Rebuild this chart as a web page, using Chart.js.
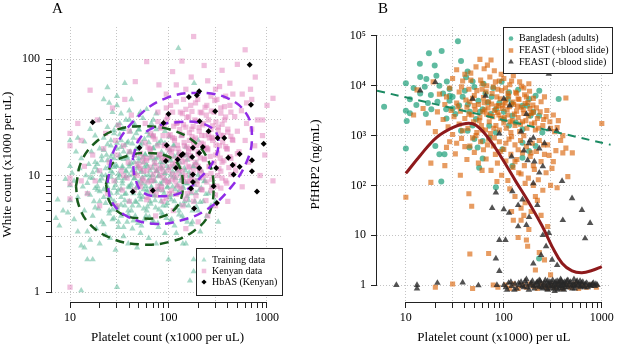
<!DOCTYPE html>
<html>
<head>
<meta charset="utf-8">
<script src="https://cdn.jsdelivr.net/npm/chart.js@4.4.1/dist/chart.umd.min.js"></script>
<style>
  html, body { margin: 0; padding: 0; background: #fff; }
  #wrap { position: relative; width: 617px; height: 353px; }
  canvas { position: absolute; top: 0; }
</style>
</head>
<body>
<div id="wrap">
  <canvas id="chartA" width="308" height="353" style="left:0"></canvas>
  <canvas id="chartB" width="309" height="353" style="left:308px"></canvas>
</div>
<script>
// ---------- panel A data (platelets x1000/uL, white count x1000/uL) ----------
const trainingPts = [
  [7.2,4.3],[7.8,3.7],[7.5,6.2],[8.5,5],[9,9.3],[9.5,4.8],[10,6.1],[10,8.2],[10.5,10.5],[10,12],[10,20],[11,9],[11,4.2],
  [11.5,16],[12,21],[12,6.5],[12,3.3],[12.5,11.5],[13,1.03],[13,2.5],[13,14],[13.5,8],[14,2.4],[14,5],[14,19.5],[14.5,10],
  [15,3.3],[15,1.9],[15,7],[15.5,12.5],[16,25],[16,2.8],[16.5,16],[17,1.9],[17,4.5],[17,9.5],[17.5,6],[18,22],[18,13],
  [18.5,3.5],[19,7.5],[19,11],[19.5,5.2],[20,30],[20,2.6],[20,17],[20,9],
  [21,4],[21,13.5],[22,6.5],[22,21],[22,45],[23,10],[23,3.1],[23.5,15],[24,8],[24,26],[24,57],[25,5],[25,12],[25.5,2.9],
  [26,18],[26,7],[27,35],[27,10.5],[27,4.2],[28,14],[28,23],[28,6],[29,2.3],[29,9],[30,1.1],[30,12],[30,17],[30,5.2],
  [30,40],[31,7.5],[31,3.6],[32,28],[32,10],[32,14],[33,20],[33,6.5],[33,4.5],[34,8.5],[34,12],[35,3],[35,16],[35,25],
  [36,9.5],[36,5.5],[37,11],[37,7],[38,14],[38,19],[38,4],[39,8],[39,2.6],[40,10],[40,6],[40,12.5],[40,30],
  [36,62],[42,45],[30,48],[25,42],[52,35],[70,30],[45,28],
  [41,16],[42,8.5],[42,5],[43,3.5],[43,11],[44,21],[44,7],[45,13],[45,9.5],[46,4.5],[46,6],[47,17],[47,10.5],[48,8],
  [48,2.4],[49,12],[50,5.5],[50,14],[50,25],[51,7],[52,9],[52,3.2],[53,11],[54,19],[55,6.5],[55,8.5],[56,13],[57,4.2],
  [58,10],[58,15],[60,7.5],[60,5],[61,12],[62,9],[63,2.9],[63,22],[65,6],[65,11],[66,14],[67,8],[68,4],[69,10],[70,17],
  [70,6.8],[72,12.5],[73,9],[74,5.3],[75,2.6],[75,14],[76,11],[78,7.5],[79,3.6],[80,19],[80,10],[82,8.5],[83,13],[84,6],
  [85,4.8],[86,11.5],[88,9],[90,15],[90,7],[92,3.2],[93,10.5],[95,5.5],[96,12],[98,8],
  [100,1.9],[102,6.5],[103,14],[105,10],[108,4.2],[110,8],[112,12],[114,18],[115,6],[118,9.5],[120,3.2],[122,11],[125,7],
  [128,5],[130,13],[133,9],[135,22],[138,4.5],[140,8],[145,6],[148,11],[150,2.6],[152,15],[155,8.5],[160,5.5],[165,10],
  [170,7],[175,4],[180,1.5],[180,12],[185,6],[190,9],[200,5],[200,20],[205,7.5],[210,3.3],[215,11],[225,6],[235,9],
  [245,4.5],[255,7],[270,5.5],[280,8],[300,6],[320,4],[126,124],[182,62],[165,1.25],[180,1.9],[140,2.6],
  [22,3.8],[28,4.3],[35,3.6],[44,4.1],[53,3.7],[64,4.4],[78,3.9],[95,4.3],[115,3.7],[140,4.2],[170,3.8],
  [18,5.3],[23,5.8],[27,5.1],[33,5.6],[39,5.0],[47,5.9],[56,5.2],[66,5.7],[80,5.1],[97,5.8],[118,5.3],[145,5.6],[175,5.0],[210,5.9],
  [16,6.8],[20,7.3],[25,6.6],[30,7.1],[36,6.9],[43,7.4],[51,6.6],[61,7.2],[73,6.7],[88,7.4],[106,6.8],[128,7.3],[155,6.6],[190,7.1],[240,6.9],
  [15,8.6],[19,8.1],[24,8.8],[29,8.3],[34,9.0],[41,8.2],[49,8.7],[59,8.1],[71,8.9],[85,8.4],[102,8.8],[123,8.2],[150,8.6],[185,8.3],[230,8.9],
  [17,10.6],[21,10.1],[26,10.9],[31,10.3],[37,10.8],[44,10.2],[53,10.7],[63,10.1],[76,10.9],[91,10.4],[110,10.8],[133,10.2],[162,10.6],[200,10.1],
  [19,12.5],[24,13.5],[29,12.2],[35,13.8],[42,12.7],[50,13.2],[60,12.4],[72,13.7],[87,12.9],[105,13.4],[127,12.3],[155,13.6],[190,12.8],
  [22,16.5],[27,15.3],[33,17.5],[40,15.8],[48,16.8],[58,15.2],[70,17.2],[85,15.9],[103,16.4],[125,15.4],[150,17.6],
  [26,20],[32,22.5],[39,19.5],[47,23],[57,20.5],[69,22],[84,19.8],[102,21.5],
  [30,27],[37,30],[45,26.5],[55,31],[67,28],[82,26],
  [25,4.7],[31,4.0],[39,4.6],[49,3.9],[59,4.5],[71,4.0],[87,4.6],[105,4.1],[128,4.6],[155,4.0],
  [20,6.0],[26,6.3],[30,5.4],[36,6.1],[43,5.5],[52,6.2],[61,5.4],[73,6.1],[88,5.5],[107,6.2],[131,5.6],[160,6.1],[192,5.4],
  [18,7.8],[22,7.6],[28,7.8],[33,7.7],[40,7.9],[47,7.8],[56,7.6],[67,7.9],[80,7.7],[97,7.9],[117,7.6],[141,7.8],[172,7.7],[215,7.8],
  [16,9.6],[21,9.4],[26,9.7],[31,9.5],[37,9.8],[45,9.4],[54,9.6],[65,9.5],[78,9.8],[93,9.4],[112,9.7],[136,9.5],[167,9.8],[205,9.4],
  [18,11.7],[23,11.5],[28,11.8],[34,11.6],[40,11.9],[48,11.5],[57,11.8],[69,11.6],[83,11.9],[100,11.5],[120,11.8],[145,11.6],[178,11.9],
  [21,14.6],[26,14.4],[32,14.9],[38,14.5],[46,14.8],[55,14.3],[66,14.9],[79,14.4],[95,14.7],[115,14.5],[140,14.8],[170,14.4],
  [24,18.5],[30,19],[36,18.2],[43,18.8],[52,18.3],[63,19.2],[76,18.4],[92,18.9],[112,18.1],
  [28,24.5],[34,25],[41,23.8],[50,24.6],[61,23.5],[75,24.8],[92,24],
  [33,34],[40,36],[50,33],[60,37],[75,34]
];
const kenyanPts = [
  [10,1.1],[10,6.3],[10,8.5],[10,9.5],[10,18],[10,23],[12,28],[13,9],[13,20],[14,12],[15,7],[16,54],[17,15],[18,9],
  [19,30],[20,5.5],[20,11],[22,17],[23,23],[24,7],[25,13],[27,38],[28,9],[29,20],[30,5.5],[30,15],[31,27],[33,11],
  [34,7.5],[35,18],[36,45],[38,9.5],[39,13],[40,24],[40,6],[42,33],
  [60,95],[137,96],[180,156],[600,120],[1150,46],[1150,9],[46,64],[80,60],[95,50],[110,78],[170,70],[250,65],[300,55],
  [420,62],[500,90],[560,50],[700,45],[900,30],[350,80],[230,88],[150,55],[120,60],
  [45,15],[48,10],[50,20],[52,8],[55,13],[58,28],[60,11],[62,6.5],[65,17],[67,9],[70,22],[72,13],[74,4.5],[75,7.5],
  [78,35],[80,15],[82,10],[85,26],[87,12],[88,6],[90,18],[92,9],[95,30],[97,14],[100,11],[100,22],[102,7],[105,40],
  [107,16],[110,12.5],[112,5],[115,20],[117,9],[120,28],[122,14],[125,17],[127,11],[130,8],[132,35],[135,22],[138,13],
  [140,5.5],[142,45],[145,18],[148,10],[150,26],[152,15],[155,7],[158,12],[160,32],[163,20],[165,9],[168,40],[170,14],
  [172,25],[175,17],[178,11],[180,6],[185,30],[188,21],[190,13],[195,9],[198,45],[200,16],[205,24],[208,11],[210,35],
  [215,19],[220,7.5],[225,28],[230,14],[235,22],[240,10],[245,40],[250,17],[255,30],[260,12],[270,25],[275,8],[280,20],
  [290,35],[300,15],[310,45],[315,10],[320,26],[330,18],[340,38],[350,13],[360,22],[370,30],[380,9],[390,17],[400,25],
  [420,40],[430,14],[450,20],[470,32],[480,11],[500,24],[520,16],[550,36],[560,8],[600,20],[620,28],[650,13],[700,25],
  [750,18],[800,30],[850,10],[900,22],[950,15],[1000,40],[680,55],[760,70],[620,42],[450,50],[380,48],[330,58],[270,48],
  [400,6],[300,5.5],[250,4.5],[200,4],[150,3.5],
  [55,9],[60,14],[68,7.5],[75,11],[85,8],[90,13.5],[100,9],[110,17],[120,10],[130,15],[140,9],[160,16],[180,19],[200,12],
  [230,17],[260,21],[40,16],[35,10],[45,7.5],[50,12],
  [60,6.2],[75,6.8],[95,6.4],[120,6.9],[150,6.3],[190,6.7],[240,6.1],[300,6.8],
  [50,8.3],[62,8.8],[78,8.1],[98,8.7],[122,8.2],[155,8.9],[195,8.4],[245,8.8],[310,8.1],[390,8.6],
  [45,10.4],[56,10.9],[70,10.2],[88,10.8],[110,10.3],[138,10.9],[172,10.1],[215,10.7],[270,10.4],[340,10.9],[430,10.2],
  [48,12.6],[60,13.5],[75,12.2],[94,13.8],[118,12.8],[148,13.3],[185,12.4],[232,13.7],[290,12.9],[365,13.4],[460,12.3],
  [52,15.5],[65,16.8],[82,15.2],[102,16.5],[128,15.8],[160,17.0],[200,15.3],[250,16.6],[315,15.6],[395,16.9],[500,15.4],
  [58,19],[73,20.5],[92,18.3],[115,20.8],[144,19.2],[180,20.2],[225,18.6],[282,20.9],[355,19.4],[445,20.4],
  [66,23],[83,25.5],[104,22.4],[130,24.8],[163,23.3],[204,25.8],[255,22.6],[320,24.5],[400,23.6],
  [78,29],[98,32],[123,28.4],[154,31.5],[193,29.3],[242,33],[303,28.8],[380,31.8],
  [95,38],[120,43],[150,37],[188,42],[235,38.5],[295,44],[370,39],
  [68,7.3],[85,7.6],[107,7.4],[135,7.7],[170,7.3],[215,7.6],[270,7.4],[340,7.8],
  [55,9.4],[70,9.2],[88,9.6],[110,9.3],[138,9.7],[173,9.2],[218,9.6],[275,9.3],[350,9.5],
  [52,11.5],[65,11.8],[82,11.4],[103,11.9],[130,11.5],[163,11.8],[205,11.4],[258,11.9],[325,11.5],[410,11.7],
  [55,14.2],[68,14.6],[85,14.1],[107,14.7],[134,14.3],[168,14.8],[210,14.2],[265,14.6],[335,14.1],[420,14.5],
  [62,17.5],[78,18],[98,17.3],[123,18.2],[154,17.6],[193,18.1],[242,17.4],[303,18.3],[380,17.7],
  [70,21.5],[88,22],[110,21.2],[138,22.3],[173,21.6],[217,22.1],[272,21.3],[340,22.2],[430,21.7],
  [90,27],[113,26.5],[142,27.3],[178,26.4],[223,27.2],[280,26.7],[350,27.5],
  [110,35],[138,34],[173,35.5],[217,34.5],[272,35.8],[340,34.3],[430,35]
];
const hbasPts = [
  [17,28.7],[43.4,7.24],[50.7,17.3],[69.3,7.43],[89,28.3],[96,18.2],[94,13.3],[100,33.8],[119,11.6],[124,13.7],
  [135,14.9],[140,15.3],[161,47.2],[174,14.4],[177,17.3],[177,10.2],[177,8.8],[182,5.2],[169,7.75],[194,48.9],
  [205,52.8],[205,15.6],[205,11.6],[207,29.2],[223,17.6],[255,24],[287,8.1],[298,35.6],[305,11.6],[310,5.8],
  [315,21],[368,21],[404,14.2],[448,12.3],[458,10.2],[527,11.9],[527,15.3],[667,89.4],[687,40.6],[703,13.5],
  [703,10.9],[791,7.3],[925,18.7]
];
const greenOuter = [
  [11.5,8.1],[13.1,13.3],[18.7,19.7],[29.9,24.8],[55.7,26.5],[104,24.8],[180,19.7],[255,13.3],[287,7.8],[255,4.6],
  [180,3.33],[104,2.7],[51.5,2.56],[25.5,2.92],[15.4,3.93],[12.2,5.64],[11.5,8.1]
];
const greenInner = [
  [23.2,8.4],[26.5,12.4],[37.7,14.7],[60.3,15.6],[96,14.7],[126,12.4],[140,8.4],[126,5.64],[89,4.48],[55.7,4.27],
  [34.8,4.6],[25.5,5.84],[23.2,8.4]
];
const purpleOuter = [
  [24,8.65],[28.7,17.3],[51.5,33.3],[96,46.4],[194,51.2],[392,46.4],[626,33.3],[703,21],[626,13.3],[424,7.8],
  [245,5.1],[131.5,4.1],[70.3,3.85],[37.7,4.48],[26.5,6.0],[24,8.65]
];
const purpleInner = [
  [43.4,14.2],[51.5,21],[76,26.5],[131.5,28.8],[210,28.3],[298,24],[322,18.5],[287,13.3],[210,9.55],[142,7.3],
  [89,6.65],[55.7,7.1],[45.8,9.55],[43.4,14.2]
];

// ---------- panel B data (platelets x1000/uL, PfHRP2 ng/mL) ----------
const bangladeshPts = [
  [6,3800],[10,11200],[10,3160],[10.2,1970],[10,550],[11,2800],[12.8,4100],[13.9,27600],[15.6,9600],[17.2,45000],
  [16.8,4500],[18.2,3400],[16,2700],[19.7,25600],[23.2,50000],[22,10000],[26.2,12200],[27.9,8600],[27.9,5000],
  [25.8,3400],[32,2700],[34,78000],[36.6,31300],[42.7,19300],[41.2,14800],[48,12200],[36.6,1250],[42.7,1250],
  [48,1600],[52,2150],[60.8,3400],[68.5,4650],[73.8,2700],[60.8,780],[50,850],[54,580],[44.6,580],[22,420],[24.8,420],
  [20,620],[56,225],[60.8,345],[71,910],[83,1150],[96.8,530],[113,1600],[132,1830],[155,1340],[181,5430],[173,3980],
  [211,6300],[229,2500],[247,1150],[155,720],[181,490],[211,620],[363,5430],[113,7400],[155,3980],[187,2500],
  [122,2500],[83,3400],[71,1570],[122,245],[83,92],[155,360],[229,3.4],[23,120],[16.2,13700],[20.5,16000],[11,5400],
  [24,7000],[28,6300],[14,7000],[30,6000],[35,4000],[45,3000],[55,5000],[65,7000],[40,8000],[50,9500],[75,6000],
  [90,4500],[100,3000],[110,5500],
  [12,9000],[14,15000],[18,6500],[21,4800],[26,2200],[30,3500],[38,6000],[43,4200],[57,3000],[62,11000],[78,9000],
  [95,12000],[120,4400],[140,8300],[200,3000],[230,8000],[100,2100]
];
const feastPosPts = [
  [13,8300],[19,12000],[22,6800],[28,9000],[33,21000],[35,7500],[38,12500],[40,17000],[44,8500],[46,13000],[50,6400],
  [52,24000],[57,34000],[60,11000],[63,22000],[66,7600],[68,26000],[72,15000],[74,33000],[78,9500],[80,20000],[85,6000],
  [90,12500],[95,8000],[100,14000],[105,5200],[115,10500],[125,16000],[135,7000],[145,12000],[160,9000],[170,6000],
  [180,11000],[200,5600],[260,6000],[430,5700],[140,5500],[110,7000],[60,8500],[48,5600],
  [12,2600],[15,3500],[17,1800],[20,1200],[21,3000],[24,2100],[25,4200],[27,1500],[29,3200],[30,1050],[31,2400],
  [33,4500],[35,1700],[36,3100],[38,1250],[40,2200],[42,3700],[43,1400],[45,4800],[47,2600],[49,1900],[51,3300],
  [53,1150],[55,4200],[57,2300],[59,1600],[61,3000],[63,4600],[65,1300],[67,2700],[69,3600],[71,1900],[73,1100],
  [75,4300],[77,2400],[80,3200],[83,1600],[86,2900],[88,4000],[90,1300],[93,2200],[96,3500],[100,1800],[103,4500],
  [106,1400],[110,2600],[114,3800],[118,1150],[122,2000],[126,4200],[130,1600],[135,3100],[140,2300],[145,1200],
  [150,3700],[155,1900],[160,2800],[165,4400],[172,1400],[178,2500],[185,3500],[192,1700],[200,2900],[210,1300],
  [220,2200],[235,3000],[250,1600],[270,2400],[300,1400],[330,1200],[350,1450],[400,1000],[1000,1750],
  [26,6000],[30,14000],[34,3800],[37,9500],[41,5200],[44,2700],[46,18000],[50,4000],[53,8000],[56,2000],[58,13000],
  [62,5800],[64,3300],[67,10000],[70,4800],[72,2500],[76,7000],[79,1400],[82,12000],[84,3900],[87,8500],[89,2600],
  [92,5500],[94,17000],[98,4100],[101,2300],[104,9000],[108,3300],[112,6200],[116,1900],[120,12500],[124,4700],
  [128,2700],[132,7400],[138,3900],[143,5300],[148,1700],[152,9800],[158,3300],[163,6600],[168,2000],[176,4600],
  [183,7800],[190,2800],[198,4100],[206,1800],[215,3600],[225,1400],[240,4800],[255,2100],[275,3200],[295,1900],
  [320,2600],[360,2000],[33,700],[40,600],[52,1000],[60,1300],[68,650],[80,900],[92,480],[105,700],[120,950],[140,520],
  [160,1000],[190,450],[230,800],[280,650],[320,300],[260,420],[200,250],[150,170],[60,200],[85,120],[165,110],[130,300],
  [18,280],[18,115],[25,250],[26,580],[28,750],[32,430],[36,160],[37,880],[42,330],[45,620],[48,900],[50,460],[55,280],
  [58,750],[62,520],[66,340],[70,850],[74,200],[78,620],[82,420],[86,280],[90,750],[95,160],[100,530],[105,310],
  [110,125],[113,850],[118,420],[124,230],[130,650],[136,330],[142,180],[148,800],[155,450],[162,250],[170,600],
  [178,140],[186,380],[195,700],[205,210],[215,480],[225,130],[240,300],[255,650],[270,180],[290,400],[310,220],
  [340,500],[380,800],[400,450],[430,560],[500,450],[450,150],
  [10,58],[44,68],[47,38],[45,4.2],[70,4.3],[130,60],[125,20],[150,20],[150,35],[160,25],[170,8],[140,9],[165,45],
  [180,13],[190,30],[200,100],[210,60],[220,50],[230,4.5],[250,80],[260,3.2],[280,15],[300,1.6],[300,100],[350,90],
  [210,2],[175,6],[115,85],[240,25],[120,30],
  [20,0.9],[30,1.05],[48,0.85],[78,1.0],[87,0.9],[105,1.0],[115,0.85],[125,1.05],[140,0.85],[155,1.0],[170,0.9],
  [185,1.05],[200,0.95],[220,0.85],[240,1.05],[260,0.95],[280,0.85],[300,1.0],[330,0.9],[360,1.05],[400,0.85],
  [440,1.0],[480,0.9],[530,1.05],[580,0.85],[640,1.0],[700,0.9],[780,1.0],[880,0.9]
];
const feastNegPts = [
  [8,1.0],[13,1.0],[13,0.85],[21,1.1],[38,1.12],[55,0.98],[85,1.0],[100,1.0],[108,0.8],[112,1.1],[120,0.95],[130,1.05],
  [135,0.85],[145,1.0],[150,1.15],[160,0.9],[170,1.05],[180,0.8],[190,1.1],[200,0.95],[210,1.0],[220,1.15],[230,0.9],
  [240,1.05],[250,0.85],[260,1.1],[270,0.95],[280,1.2],[290,1.0],[300,0.85],[310,1.1],[320,0.95],[330,1.05],[340,0.9],
  [350,1.2],[360,1.0],[370,0.85],[380,1.1],[390,0.95],[400,1.05],[410,0.8],[420,1.15],[430,1.0],[450,0.9],[470,1.1],
  [490,0.95],[510,1.05],[530,0.85],[550,1.15],[570,1.0],[600,0.9],[620,1.1],[650,0.95],[680,1.05],[720,0.9],[760,1.0],
  [800,1.05],[850,0.95],[900,1.0],[330,0.75],[280,0.8],[230,1.25],[450,1.25],[520,1.3],[170,1.3],[380,1.3],[600,1.2],
  [105,0.9],[118,1.15],[128,0.8],[142,1.1],[155,0.95],[165,1.2],[175,0.9],[188,1.0],[196,1.2],[205,0.85],[215,1.1],
  [225,0.95],[235,1.2],[245,0.9],[255,1.0],[265,1.25],[275,0.85],[285,1.05],[295,1.15],[305,0.95],[315,1.25],[325,0.85],
  [335,1.15],[345,1.0],[355,0.8],[365,1.15],[375,0.95],[385,1.2],[395,0.85],[405,1.1],[415,1.0],[425,0.9],[440,1.2],
  [460,1.0],[480,1.15],[500,0.85],[520,1.0],[540,0.95],[560,1.2],[580,1.05],[610,0.95],[640,1.15],[670,0.9],[700,1.1],
  [740,1.0],[780,0.95],[820,1.1],[870,1.05],
  [14,8000],[20,11800],[65,6300],[48,5500],[100,5500],[115,4000],[288,17300],[170,2700],[180,700],[150,1200],[290,1340],
  [346,1250],[200,900],[160,500],[185,800],[260,700],[230,550],[205,300],[250,240],[230,180],[175,320],[120,380],
  [90,1100],[83,72],[76,35],[83,3.4],[90,8],[104,8],[90,1.9],[100,33],[113,28],[122,76],[155,52],[140,40],[181,23],
  [170,16],[200,110],[220,40],[250,10],[288,11],[311,3.2],[270,6],[393,122],[400,20],[497,55],[627,32],[675,8.6],
  [760,17.5],[240,4],[350,2.5],[200,2.7],[140,15]
];
const fitCurve = [
  [10,174],[13.9,390],[20.5,915],[30,1450],[41,1750],[52,1620],[71,845],[97,334],[132,122],[181,44.6],[247,15.1],
  [311,5.9],[393,2.74],[497,1.92],[627,1.77],[792,1.95],[1000,2.34]
];
const trendLine = [[5.08,7980],[1234,653]];

// ---------- axes ----------
const plateletTicks = [10,20,30,40,50,60,70,80,90,100,200,300,400,500,600,700,800,900,1000];
const plateletLabels = { 10: '10', 100: '100', 1000: '1000' };
const plateletGrid = [10, 30, 100, 300, 1000];
const whiteTicks = [1,2,3,4,5,6,7,8,9,10,20,30,40,50,60,70,80,90,100];
const whiteLabels = { 1: '1', 10: '10', 100: '100' };
const whiteGrid = [1, 3, 10, 30, 100];
const hrpTicks = [1, 10, 100, 1000, 10000, 100000];
const hrpLabels = { 1: '1', 10: '10', 100: '10\u00B2', 1000: '10\u00B3', 10000: '10\u2074', 100000: '10\u2075' };

const SERIF = "'Liberation Serif', 'DejaVu Serif', serif";
const pts = a => a.map(p => ({ x: p[0], y: p[1] }));

function logAxis(o) {
  return {
    type: 'logarithmic',
    position: o.position,
    min: o.min, max: o.max,
    afterBuildTicks: s => { s.ticks = o.ticks.map(v => ({ value: v })); },
    afterFit: s => { if (o.width) s.width = o.width; if (o.height) s.height = o.height; },
    ticks: {
      autoSkip: false, maxRotation: 0, minRotation: 0, padding: o.pad, color: '#000',
      font: { family: SERIF, size: 12 },
      callback: v => o.labels[v] || ''
    },
    grid: {
      drawOnChartArea: true, drawTicks: true, tickLength: 6, tickColor: '#222', tickWidth: 1, lineWidth: 1,
      color: c => (c.tick && o.grid.includes(c.tick.value)) ? '#c4c4c4' : 'rgba(0,0,0,0)'
    },
    border: { display: false, dash: [1, 2] },
    title: { display: true, text: o.title, color: '#000', font: { family: SERIF, size: 13 }, padding: o.titlePad }
  };
}

// R-style detached axis lines, legend box and panel letter
const decor = {
  id: 'decor',
  afterDraw(chart, args, o) {
    const { ctx, chartArea } = chart;
    const xs = chart.scales.x, ys = chart.scales.y;
    ctx.save();
    ctx.strokeStyle = '#222';
    ctx.lineWidth = 1;
    ctx.beginPath();
    const lx = Math.round(chartArea.left) - 0.5;
    ctx.moveTo(lx, ys.getPixelForValue(o.yFrom));
    ctx.lineTo(lx, ys.getPixelForValue(o.yTo));
    const by = Math.round(chartArea.bottom) + 0.5;
    ctx.moveTo(xs.getPixelForValue(o.xFrom), by);
    ctx.lineTo(xs.getPixelForValue(o.xTo), by);
    ctx.stroke();

    // legend
    const L = o.legend;
    ctx.fillStyle = '#fff';
    ctx.fillRect(L.x1, L.y1, L.x2 - L.x1, L.y2 - L.y1);
    ctx.strokeStyle = '#222';
    ctx.strokeRect(L.x1 + 0.5, L.y1 + 0.5, L.x2 - L.x1, L.y2 - L.y1);
    ctx.font = L.size + 'px ' + SERIF;
    ctx.textBaseline = 'middle';
    ctx.textAlign = 'left';
    L.items.forEach((it, i) => {
      const y = L.rows[i];
      ctx.fillStyle = it.color;
      Chart.helpers.drawPoint(ctx, { pointStyle: it.style, radius: it.r, rotation: 0, borderWidth: 0 }, L.symX, y);
      ctx.fillStyle = '#000';
      ctx.fillText(it.label, L.textX, y);
    });

    // panel letter
    ctx.font = '15px ' + SERIF;
    ctx.fillStyle = '#000';
    ctx.textBaseline = 'alphabetic';
    ctx.fillText(o.letter, o.letterX, 13);
    ctx.restore();
  }
};

const lineDs = (data, color, width, dash) => ({
  type: 'scatter', data: pts(data), showLine: true, tension: 0.4, borderColor: color, borderWidth: width,
  borderDash: dash, pointRadius: 0, fill: false
});

// ---------- panel A ----------
new Chart(document.getElementById('chartA'), {
  type: 'scatter',
  data: {
    datasets: [
      { data: pts(hbasPts), pointStyle: 'rectRot', pointRadius: 3, backgroundColor: '#000', borderWidth: 0 },
      lineDs(purpleInner, '#8f2be6', 2.5, [9, 6]),
      lineDs(purpleOuter, '#8f2be6', 2.5, [9, 6]),
      lineDs(greenInner, '#195c1d', 2.5, [9, 6]),
      lineDs(greenOuter, '#195c1d', 2.5, [9, 6]),
      { data: pts(kenyanPts), pointStyle: 'rect', pointRadius: 3.7, backgroundColor: 'rgba(226,128,188,0.5)', borderWidth: 0 },
      { data: pts(trainingPts), pointStyle: 'triangle', pointRadius: 3.6, backgroundColor: 'rgba(95,185,155,0.55)', borderWidth: 0 }
    ]
  },
  options: {
    responsive: false, animation: false, devicePixelRatio: 1, events: [],
    layout: { padding: { left: 0, top: 27, right: 25, bottom: 0 } },
    plugins: {
      legend: { display: false }, tooltip: { enabled: false },
      decor: {
        yFrom: 1, yTo: 100, xFrom: 10, xTo: 1000, letter: 'A', letterX: 52,
        legend: {
          x1: 196, y1: 248, x2: 282, y2: 295, size: 10, symX: 204, textX: 212, rows: [260, 271, 282],
          items: [
            { label: 'Training data', style: 'triangle', r: 3, color: 'rgba(95,185,155,0.5)' },
            { label: 'Kenyan data', style: 'rect', r: 3.2, color: 'rgba(226,128,188,0.5)' },
            { label: 'HbAS (Kenyan)', style: 'rectRot', r: 2.6, color: '#000' }
          ]
        }
      }
    },
    scales: {
      x: logAxis({ position: 'bottom', min: 6.565, max: 1453.6, ticks: plateletTicks, labels: plateletLabels,
        grid: plateletGrid, height: 51, pad: 3, title: 'Platelet count (x1000 per uL)', titlePad: { top: 0, bottom: 8 } }),
      y: logAxis({ position: 'left', min: 0.8209, max: 188.3, ticks: whiteTicks, labels: whiteLabels,
        grid: whiteGrid, width: 52, pad: 6, title: 'White count (x1000 per uL)', titlePad: { top: 0, bottom: 0 } })
    }
  },
  plugins: [decor]
});

// ---------- panel B ----------
new Chart(document.getElementById('chartB'), {
  type: 'scatter',
  data: {
    datasets: [
      lineDs(fitCurve, '#8e1a1c', 3, []),
      lineDs(trendLine, '#1b8a62', 2, [8, 6]),
      { data: pts(feastNegPts), pointStyle: 'triangle', pointRadius: 3.8, backgroundColor: 'rgba(40,40,40,0.8)', borderWidth: 0 },
      { data: pts(feastPosPts), pointStyle: 'rect', pointRadius: 3.6, backgroundColor: 'rgba(217,95,2,0.62)', borderWidth: 0 },
      { data: pts(bangladeshPts), pointStyle: 'circle', pointRadius: 3, backgroundColor: 'rgba(27,158,119,0.7)', borderWidth: 0 }
    ]
  },
  options: {
    responsive: false, animation: false, devicePixelRatio: 1, events: [],
    layout: { padding: { left: 0, top: 27, right: 5, bottom: 0 } },
    plugins: {
      legend: { display: false }, tooltip: { enabled: false },
      decor: {
        yFrom: 1, yTo: 100000, xFrom: 10, xTo: 1000, letter: 'B', letterX: 70,
        legend: {
          x1: 195, y1: 27, x2: 304, y2: 73, size: 10, symX: 203, textX: 211, rows: [38.5, 50.5, 62],
          items: [
            { label: 'Bangladesh (adults)', style: 'circle', r: 2.3, color: 'rgba(27,158,119,0.7)' },
            { label: 'FEAST (+blood slide)', style: 'rect', r: 3.2, color: 'rgba(217,95,2,0.62)' },
            { label: 'FEAST (-blood slide)', style: 'triangle', r: 3.2, color: 'rgba(40,40,40,0.8)' }
          ]
        }
      }
    },
    scales: {
      x: logAxis({ position: 'bottom', min: 5.077, max: 1234, ticks: plateletTicks, labels: plateletLabels,
        grid: plateletGrid, height: 51, pad: 3, title: 'Platelet count (x1000) per uL', titlePad: { top: 0, bottom: 8 } }),
      y: logAxis({ position: 'left', min: 0.4557, max: 151600, ticks: hrpTicks, labels: hrpLabels,
        grid: hrpTicks, width: 69, pad: 5, title: 'PfHRP2 (ng/mL)', titlePad: { top: 0, bottom: 0 } })
    }
  },
  plugins: [decor]
});
</script>
</body>
</html>
